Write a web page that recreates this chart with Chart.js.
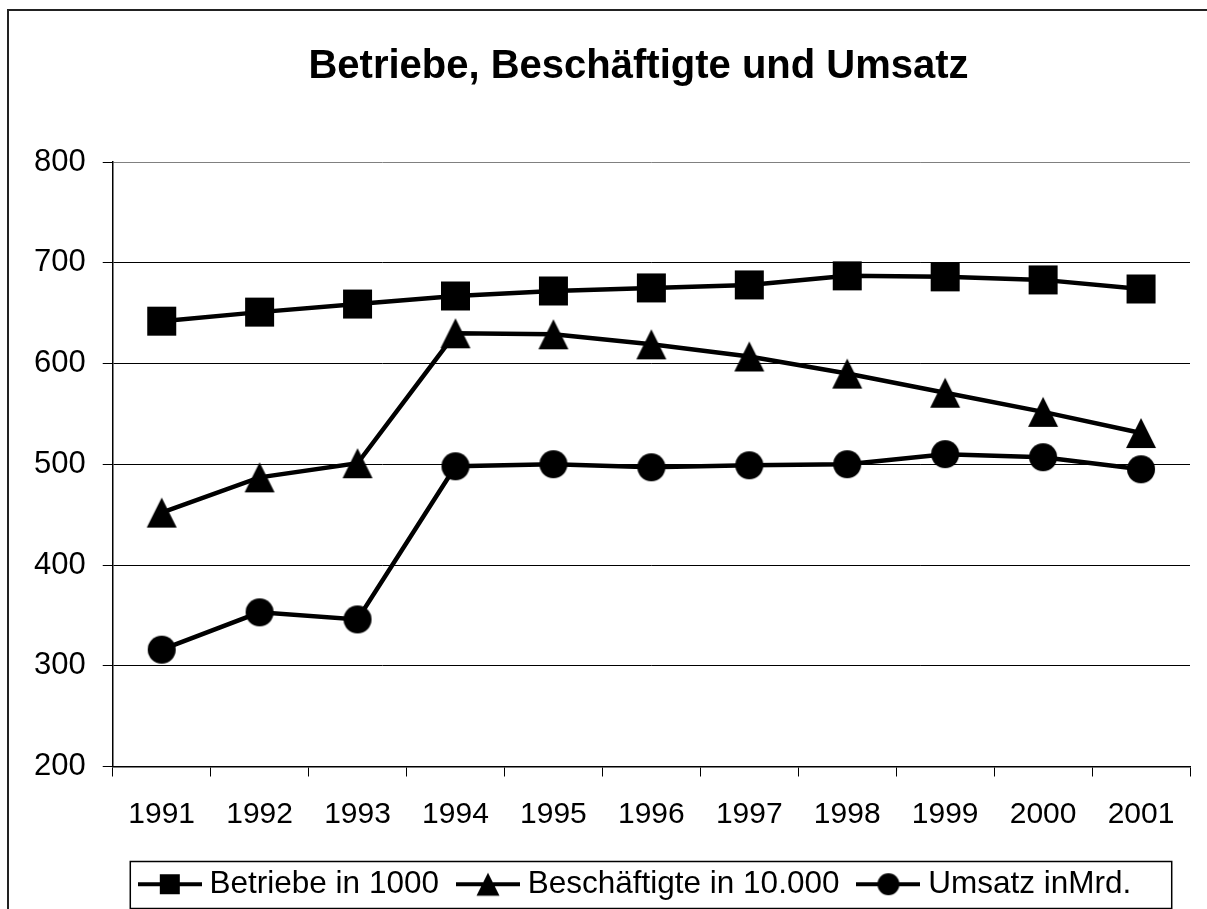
<!DOCTYPE html>
<html>
<head>
<meta charset="utf-8">
<title>Betriebe, Beschäftigte und Umsatz</title>
<script src="https://cdn.jsdelivr.net/npm/chart.js@4.4.1/dist/chart.umd.min.js"></script>
<style>
  html, body { margin: 0; padding: 0; background: #fff; overflow: hidden; }
  #contenedor { position: relative; width: 1207px; height: 909px; overflow: hidden; }
  #grafica { display: block; position: absolute; left: 0; top: 0; }
</style>
</head>
<body>
<div id="contenedor">
  <canvas id="grafica" width="1300" height="930"></canvas>
</div>
<script>
// Datos de la gráfica
const jahre = ['1991', '1992', '1993', '1994', '1995', '1996', '1997', '1998', '1999', '2000', '2001'];
const betriebe = [642, 651, 659, 667, 672, 675, 678, 687, 686, 683, 674];
const beschaeftigte = [452, 487, 501, 630, 629, 619, 607, 590, 571, 552, 531];
const umsatz = [316, 353, 346, 498, 500, 497, 499, 500, 510, 507, 495];
const serienNamen = ['Betriebe in 1000', 'Beschäftigte in 10.000', 'Umsatz inMrd.'];
const yTicks = [200, 300, 400, 500, 600, 700, 800];

const fuente = "'Liberation Sans', Arial, sans-serif";

// Dibuja un marcador (cuadrado, triángulo o círculo) en un canvas
function dibujarMarcador(ctx, tipo, cx, cy, s) {
  ctx.fillStyle = '#000';
  ctx.beginPath();
  if (tipo === 'rect') {
    ctx.rect(cx - s / 2, cy - s / 2, s, s);
  } else if (tipo === 'triangle') {
    ctx.moveTo(cx, cy - s / 2);
    ctx.lineTo(cx + s / 2, cy + s / 2);
    ctx.lineTo(cx - s / 2, cy + s / 2);
    ctx.closePath();
  } else {
    ctx.arc(cx, cy, s / 2, 0, Math.PI * 2);
  }
  ctx.fill();
}

function crearMarcador(tipo, s) {
  const c = document.createElement('canvas');
  c.width = s + 2;
  c.height = s + 2;
  dibujarMarcador(c.getContext('2d'), tipo, c.width / 2, c.height / 2, s);
  return c;
}

// Icono de leyenda: línea con marcador en medio
function crearIconoLeyenda(tipo, s) {
  const c = document.createElement('canvas');
  c.width = 64;
  c.height = 30;
  const ctx = c.getContext('2d');
  ctx.strokeStyle = '#000';
  ctx.lineWidth = 4;
  ctx.beginPath();
  ctx.moveTo(0, 15);
  ctx.lineTo(64, 15);
  ctx.stroke();
  dibujarMarcador(ctx, tipo, 32, 15, s);
  return c;
}

const marcadores = [crearMarcador('rect', 29), crearMarcador('triangle', 30), crearMarcador('circle', 28)];
const iconos = [crearIconoLeyenda('rect', 20), crearIconoLeyenda('triangle', 23), crearIconoLeyenda('circle', 22)];

// Marco exterior (solo arriba e izquierda quedan visibles) y caja de la leyenda
const marcoPlugin = {
  id: 'marco',
  afterDraw(chart) {
    const ctx = chart.ctx;
    ctx.save();
    ctx.strokeStyle = '#222';
    ctx.lineWidth = 2;
    ctx.beginPath();
    ctx.moveTo(8, chart.height);
    ctx.lineTo(8, 10);
    ctx.lineTo(chart.width, 10);
    ctx.stroke();

    const cajas = chart.legend.legendHitBoxes;
    if (cajas && cajas.length) {
      const izq = Math.min(...cajas.map(b => b.left)) - 16;
      const der = Math.max(...cajas.map(b => b.left + b.width)) + 40;
      ctx.strokeStyle = '#000';
      ctx.lineWidth = 1.5;
      ctx.strokeRect(izq + 0.5, 861.5, der - izq, 47);
    }
    ctx.restore();
  }
};

function crearSerie(i, datos) {
  return {
    label: serienNamen[i],
    data: datos,
    borderColor: '#000',
    backgroundColor: '#000',
    borderWidth: 4.5,
    tension: 0,
    pointStyle: marcadores[i],
    pointRadius: 14,
    pointHoverRadius: 14
  };
}

new Chart(document.getElementById('grafica'), {
  type: 'line',
  data: {
    labels: jahre,
    datasets: [
      crearSerie(0, betriebe),
      crearSerie(1, beschaeftigte),
      crearSerie(2, umsatz)
    ]
  },
  options: {
    responsive: false,
    animation: false,
    devicePixelRatio: 1,
    layout: {
      padding: { left: 17, right: 40, top: 0, bottom: 20 }
    },
    plugins: {
      title: {
        display: true,
        text: 'Betriebe, Beschäftigte und Umsatz',
        color: '#000',
        font: { family: fuente, size: 40, weight: 'bold' },
        padding: { top: 43, bottom: 71 }
      },
      legend: {
        position: 'bottom',
        labels: {
          color: '#000',
          font: { family: fuente, size: 31.5 },
          usePointStyle: true,
          pointStyleWidth: 48,
          padding: 25,
          generateLabels(chart) {
            const items = Chart.defaults.plugins.legend.labels.generateLabels(chart);
            items.forEach((it, i) => { it.pointStyle = iconos[i]; });
            return items;
          }
        }
      },
      tooltip: { enabled: false }
    },
    scales: {
      x: {
        offset: true,
        grid: {
          offset: true,
          drawOnChartArea: true,
          color: ctx => ctx.index === jahre.length ? '#808080' : 'rgba(0,0,0,0)',
          tickColor: '#000',
          tickLength: 10
        },
        border: { color: '#000', width: 1.5 },
        ticks: {
          color: '#000',
          font: { family: fuente, size: 30 },
          padding: 20,
          maxRotation: 0
        },
        afterFit(scale) { scale.height = 77; }
      },
      y: {
        min: 200,
        max: 800,
        afterBuildTicks(scale) { scale.ticks = yTicks.map(v => ({ value: v })); },
        grid: {
          color: ctx => ctx.tick && ctx.tick.value === 800 ? '#808080' : '#000',
          tickColor: '#000',
          tickLength: 10
        },
        border: { color: '#000', width: 1.5 },
        ticks: {
          color: '#000',
          font: { family: fuente, size: 31 },
          padding: 17
        }
      },
      y2: {
        position: 'right',
        display: true,
        grid: { display: false },
        border: { display: false },
        ticks: { display: false },
        afterFit(scale) { scale.width = 70; }
      }
    }
  },
  plugins: [marcoPlugin]
});
</script>
</body>
</html>
